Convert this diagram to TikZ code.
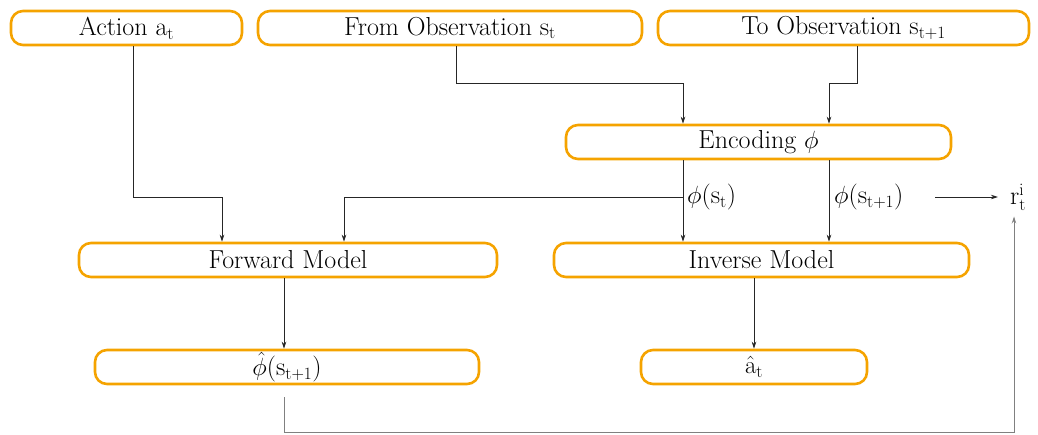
\documentclass[tikz,border=0pt]{standalone}
\usetikzlibrary{arrows.meta}
\definecolor{boxorange}{HTML}{F5A300}
\definecolor{linegray}{HTML}{808080}
\begin{document}
\begin{tikzpicture}[x=1pt,y=-1pt,
  box/.style={draw=boxorange, line width=2.6pt, rounded corners=12pt, minimum height=34pt, inner sep=0pt, font=\fontsize{26}{30}\selectfont},
  lbl/.style={font=\fontsize{26}{30}\selectfont, inner sep=0pt},
  arr/.style={draw=black!85, line width=0.8pt, -{Stealth[length=7pt,width=4.5pt]}},
  fb/.style={draw=linegray, line width=1pt, -{Stealth[length=7pt,width=4.5pt]}}]
\useasboundingbox (0,0) rectangle (1038,434);
\node[box, minimum width=231pt] (act) at (126.5,28) {Action a$_\mathrm{t}$};
\node[box, minimum width=384pt] (from) at (450,28) {From Observation s$_\mathrm{t}$};
\node[box, minimum width=371pt] (to) at (843.5,28) {To Observation s$_\mathrm{t+1}$};
\node[box, minimum width=385pt] (enc) at (758.5,142) {Encoding $\phi$};
\node[box, minimum width=418pt] (fwd) at (288,260) {Forward Model};
\node[box, minimum width=415pt] (inv) at (761.5,260) {Inverse Model};
\node[box, minimum width=384pt] (phihat) at (287,367) {$\hat{\phi}$(s$_\mathrm{t+1}$)};
\node[box, minimum width=226pt] (ahat) at (754,367) {$\hat{\mathrm{a}}_\mathrm{t}$};
\node[lbl, anchor=west] (ps) at (687,197) {$\phi$(s$_\mathrm{t}$)};
\node[lbl, anchor=west] (ps1) at (834,197) {$\phi$(s$_\mathrm{t+1}$)};
\node[lbl, inner xsep=12pt] (r) at (1018,197) {r$^\mathrm{i}_\mathrm{t}$};
\coordinate (rl) at (935,197);
\coordinate (c1) at (284,432);
\coordinate (c2) at (1014,432);
% top inputs
\draw[arr] ([xshift=6.5pt]act.south) |- (222,197) -- (fwd.north -| 222,0);
\draw[arr] ([xshift=6pt]from.south) |- (683,83) -- (enc.north -| 683,0);
\draw[arr] ([xshift=13.5pt]to.south) |- (829,83) -- (enc.north -| 829,0);
% encoding to inverse
\draw[arr] (enc.south -| 683,0) -- (inv.north -| 683,0);
\draw[arr] (enc.south -| 829,0) -- (inv.north -| 829,0);
\draw[arr] (683,197) -| (fwd.north -| 344,0);
% outputs
\draw[arr] (fwd.south -| 284,0) -- (phihat.north -| 284,0);
\draw[arr] (inv.south -| 754,0) -- (ahat.north -| 754,0);
\draw[arr] (rl) -- (r.west);
\draw[fb] ([yshift=-12pt]phihat.south -| c1) -- (c1) -- (c2) -- ([yshift=-6pt]r.south -| c2);
\end{tikzpicture}
\end{document}
